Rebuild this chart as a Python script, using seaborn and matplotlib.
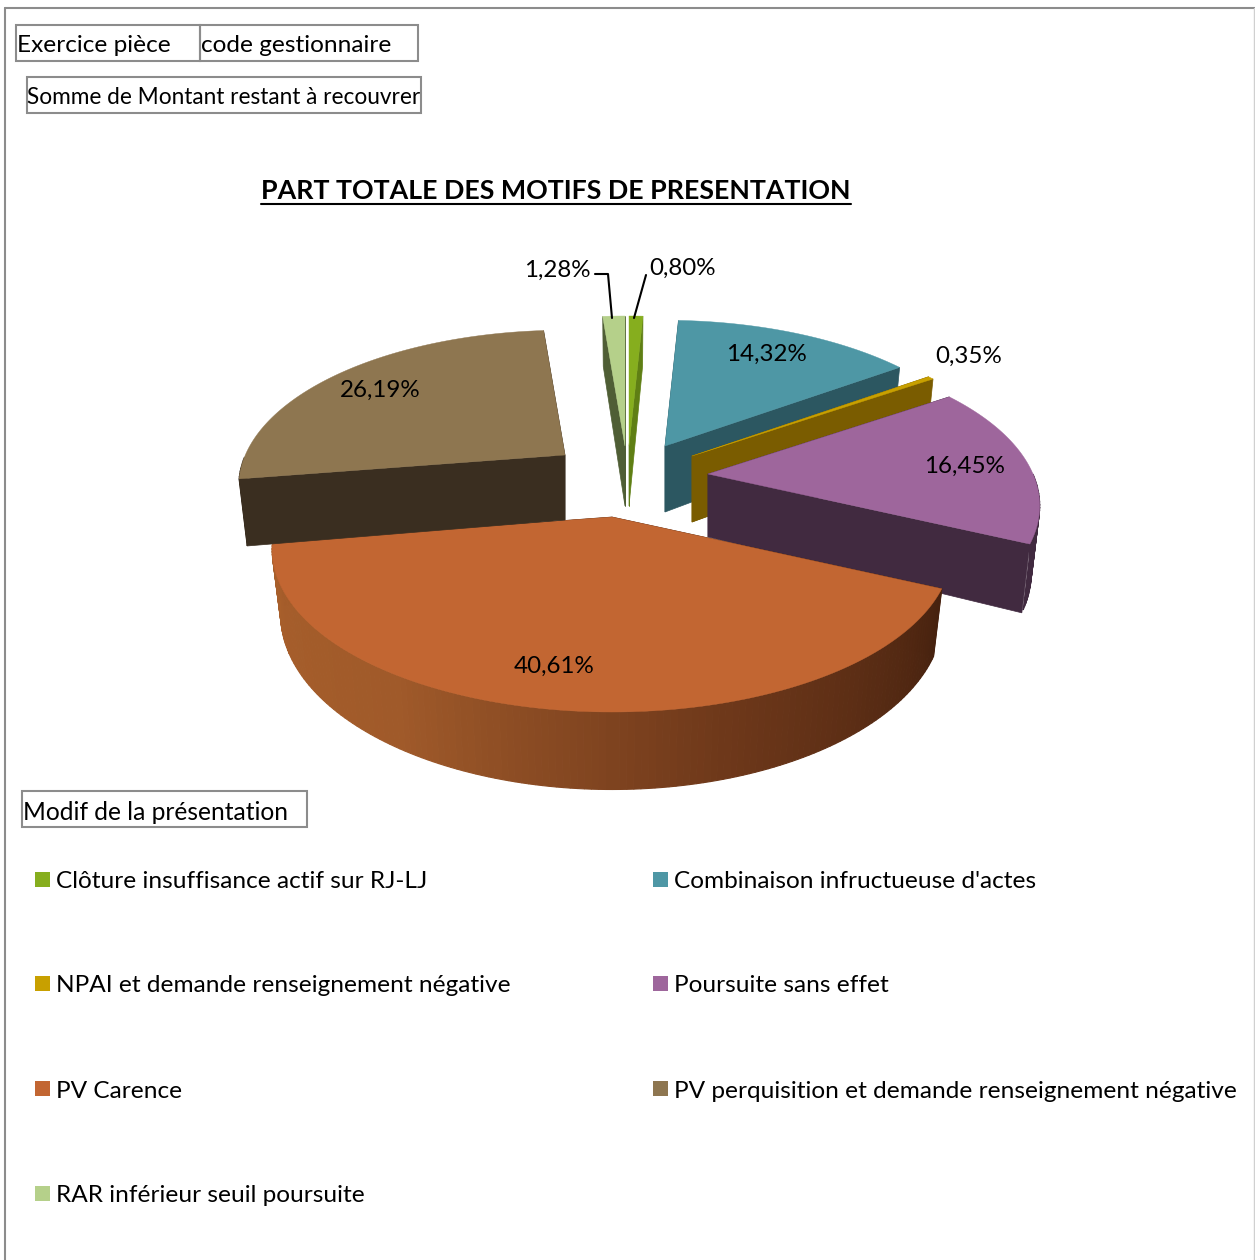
import numpy as np
import seaborn as sns
import matplotlib.pyplot as plt
from matplotlib.patches import Rectangle

motifs = ["Clôture insuffisance actif sur RJ-LJ", "Combinaison infructueuse d'actes",
          "NPAI et demande renseignement négative", "Poursuite sans effet",
          "PV Carence", "PV perquisition et demande renseignement négative",
          "RAR inférieur seuil poursuite"]
parts = [0.80, 14.32, 0.35, 16.45, 40.61, 26.19, 1.28]
labels = ["0,80%", "14,32%", "0,35%", "16,45%", "40,61%", "26,19%", "1,28%"]

top_colors = ["#86AE1E", "#4E97A5", "#C8A000", "#9E669C", "#C26632", "#8E7650", "#B5D08A"]
wall_colors = ["#5F7F14", "#2C5761", "#7A5C00", "#412A40", "#4A2410", "#3A2E20", "#4F5E35"]

# Where each exploded slice has its tip, in pixels, and how it is scaled
tips = [(629, 446), (665, 446), (692, 456), (708, 474), (612, 517), (565, 455), (625, 446)]
scales = [1.0, 0.967, 0.975, 0.976, 1.0, 0.96, 1.0]
depths = [60, 66, 66, 63, 62, 65, 60]
label_pos = [(683, 266), (766, 352), (969, 354), (964, 464), (554, 664), (380, 388), (557, 268)]
draw_order = [6, 0, 1, 2, 3, 4, 5]

RX, RY, K = 333, 156, 0.2
SHRINK = 0.975
FONT = "Lato"
BOX = "#8C8C8C"

sns.set_theme(style="white")
plt.rcParams["font.family"] = FONT

fig = plt.figure(figsize=(12.55, 12.6), dpi=100)
ax = fig.add_axes([0, 0, 1, 1])
ax.set_xlim(0, 1255)
ax.set_ylim(1260, 0)
ax.axis("off")


def top_point(t, i):
    r = np.radians(t)
    w = 1 + K * np.cos(r)
    tip = tips[i]
    return tip[0] + scales[i] * RX * np.sin(r) / w, tip[1] - scales[i] * RY * np.cos(r) / w


def low_point(t, i):
    x, y = top_point(t, i)
    w = 1 + K * np.cos(np.radians(t))
    return tips[i][0] + (x - tips[i][0]) * SHRINK, y + depths[i] / w


def draw_slice(i, a0, a1):
    tip = tips[i]
    low_tip = (tip[0], tip[1] + depths[i])
    # cut faces
    for t in (a0, a1):
        pts = [tip, top_point(t, i), low_point(t, i), low_tip]
        ax.fill(*zip(*pts), color=wall_colors[i], lw=0.5)
    # outer wall, only the part facing us
    steps = np.arange(max(a0, 90), min(a1, 270) + 0.01, 1.0)
    if len(steps) > 1:
        if i == 4:
            shades = sns.blend_palette(["#47220F", "#6E381A", "#A05A2A", "#A85F2B"], len(steps))
        else:
            shades = [wall_colors[i]] * len(steps)
        for s0, s1, c in zip(steps[:-1], steps[1:], shades):
            pts = [top_point(s0, i), top_point(s1, i), low_point(s1, i), low_point(s0, i)]
            ax.fill(*zip(*pts), color=c, lw=0.8)
    # top face
    arc = np.linspace(a0, a1, 120)
    xs, ys = zip(*[top_point(t, i) for t in arc])
    ax.fill([tip[0], *xs], [tip[1], *ys], color=top_colors[i], lw=0.3)


edges = np.concatenate([[0], np.cumsum(parts)]) * 360 / sum(parts)
for i in draw_order:
    draw_slice(i, edges[i], edges[i + 1])

for txt, (x, y) in zip(labels, label_pos):
    ax.text(x, y + 2, txt, ha="center", va="center", fontsize=17.4, color="black")

# leader lines of the two small slices
ax.plot([595, 608, 612], [274, 274, 318], color="black", lw=1.5)
ax.plot([646, 634], [275, 318], color="black", lw=1.5)

ax.text(556, 191, "PART TOTALE DES MOTIFS DE PRESENTATION", ha="center", va="center",
        fontsize=19.3, fontweight="bold", color="black")
ax.plot([261, 851], [204, 204], color="black", lw=1.5)

# outer frame of the sheet
ax.plot([5, 5], [1260, 8], color=BOX, lw=1.5)
ax.plot([5, 1255], [8, 8], color=BOX, lw=1.5)
ax.plot([1254, 1254], [8, 1260], color="#D0D0D0", lw=1)

# field buttons of the pivot chart
for x0, y0, x1, y1 in [(16, 25, 200, 61), (200, 25, 418, 61), (27, 77, 421, 113), (22, 791, 307, 827)]:
    ax.add_patch(Rectangle((x0, y0), x1 - x0, y1 - y0, fill=False, edgecolor=BOX, lw=1.5))
ax.text(17, 46, "Exercice pièce", va="center", fontsize=17.6, color="black")
ax.text(201, 46, "code gestionnaire", va="center", fontsize=17.6, color="black")
ax.text(27, 98, "Somme de Montant restant à recouvrer", va="center", fontsize=16.3, color="black")
ax.text(23, 812, "Modif de la présentation", va="center", fontsize=17.7, color="black")

# legend, filled row by row in two columns
col_x = [35, 653]
row_y = [880, 984, 1089, 1194]
for i, name in enumerate(motifs):
    x = col_x[i % 2]
    y = row_y[i // 2]
    ax.add_patch(Rectangle((x, y - 8), 15, 15, color=top_colors[i], lw=0))
    ax.text(x + 21, y + 2, name, va="center", fontsize=17.6, color="black")

fig.savefig("out.png", dpi=100)
